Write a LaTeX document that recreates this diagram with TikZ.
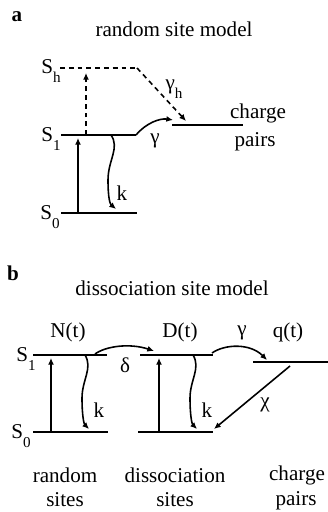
\documentclass[tikz,border=0pt]{standalone}
\usepackage{fontspec}
\setmainfont{Liberation Serif}
\usepackage{tikz}
\usetikzlibrary{arrows.meta}
\newcommand{\sublbl}[2]{#1\lower0.42em\hbox{\fontsize{4.3}{5}\selectfont #2}}

\begin{document}
\begin{tikzpicture}[scale=0.1, >={Latex[length=1.9pt,width=1.7pt]}]
\tikzstyle{every node}+=[inner sep=0pt, font=\fontsize{6}{7}\selectfont]
\tikzstyle{level}=[black, line width=0.62pt]
\tikzstyle{trans}=[black, line width=0.45pt, ->]
\tikzstyle{dashline}=[dash pattern=on 1.4pt off 1.1pt]
\useasboundingbox (0,0) rectangle (32.8,-51.2);
% panel a: random site model
\node (lbla) at (1.7,-1.7) {\bfseries a};
\node (titlea) at (17.4,-2.9) {random site model};
\coordinate (ahl) at (6.0,-6.8);
\coordinate (ahr) at (13.7,-6.8);
\coordinate (a1l) at (6.1,-13.5);
\coordinate (a1r) at (13.6,-13.5);
\coordinate (a0l) at (6.1,-21.3);
\coordinate (a0r) at (13.7,-21.3);
\coordinate (acl) at (17.2,-12.5);
\coordinate (acr) at (24.3,-12.5);
\coordinate (ahend) at (18.6,-12.1);
\draw [level, dashline] (ahl) -- (ahr);
\draw [level] (a1l) -- (a1r);
\draw [level] (a0l) -- (a0r);
\draw [level] (acl) -- (acr);
\node (ash) at (5.1,-7.1) {\sublbl{S}{h}};
\node (as1) at (5.1,-13.9) {\sublbl{S}{1}};
\node (as0) at (5.0,-21.7) {\sublbl{S}{0}};
\draw [trans, dashline] (ahr) -- (ahend);
\draw [trans, dashline] (8.6,-13.5) -- (8.6,-7.3);
\draw [trans] (7.8,-21.3) -- (7.8,-13.8);
\draw [trans] (11.1,-13.5) .. controls (12.0,-14.8) and (10.8,-16.0) .. (10.8,-18.0) .. controls (10.8,-19.8) and (11.0,-20.4) .. (11.6,-20.9);
\draw [trans] (a1r) .. controls (14.6,-12.3) and (16.0,-11.8) .. (17.3,-12.0);
\node (agh) at (17.4,-8.9) {\sublbl{γ}{h}};
\node (ag) at (15.5,-14.1) {γ};
\node (ak) at (12.2,-19.3) {k};
\node (acharge) at (25.8,-11.3) {charge};
\node (apairs) at (25.5,-14.2) {pairs};
% panel b: dissociation site model
\node (lblb) at (1.3,-27.3) {\bfseries b};
\node (titleb) at (17.2,-28.8) {dissociation site model};
\coordinate (r1l) at (3.3,-35.5);
\coordinate (r1r) at (10.7,-35.5);
\coordinate (r0l) at (3.3,-43.2);
\coordinate (r0r) at (10.8,-43.2);
\coordinate (d1l) at (14.0,-35.5);
\coordinate (d1r) at (21.3,-35.5);
\coordinate (d0l) at (13.8,-43.2);
\coordinate (d0r) at (21.3,-43.2);
\coordinate (ql) at (25.3,-36.2);
\coordinate (qr) at (32.8,-36.2);
\draw [level] (r1l) -- (r1r);
\draw [level] (r0l) -- (r0r);
\draw [level] (d1l) -- (d1r);
\draw [level] (d0l) -- (d0r);
\draw [level] (ql) -- (qr);
\node (bs1) at (2.6,-35.9) {\sublbl{S}{1}};
\node (bs0) at (2.1,-43.6) {\sublbl{S}{0}};
\node (bn) at (6.8,-33.2) {N(t)};
\node (bd) at (18.0,-33.2) {D(t)};
\node (bq) at (28.8,-33.2) {q(t)};
\draw [trans] (5.1,-43.2) -- (5.1,-35.8);
\draw [trans] (15.9,-43.2) -- (15.9,-35.8);
\draw [trans] (8.5,-35.5) .. controls (9.3,-36.8) and (8.2,-38.0) .. (8.2,-39.8) .. controls (8.2,-41.6) and (8.4,-42.4) .. (8.9,-42.9);
\draw [trans] (19.3,-35.5) .. controls (20.1,-36.8) and (19.0,-38.0) .. (19.0,-39.8) .. controls (19.0,-41.6) and (19.2,-42.4) .. (19.7,-42.9);
\draw [trans] (9.5,-35.4) .. controls (10.6,-34.6) and (13.0,-34.3) .. (15.4,-35.1);
\draw [trans] (21.2,-35.3) .. controls (22.5,-34.4) and (25.0,-34.3) .. (26.7,-36.0);
\draw [trans] (29.0,-36.6) -- (21.4,-42.9);
\node (bdelta) at (12.5,-36.5) {δ};
\node (bgamma) at (24.2,-33.3) {γ};
\node (bchi) at (26.5,-40.5) {χ};
\node (bk1) at (9.9,-41.0) {k};
\node (bk2) at (20.7,-41.0) {k};
\node (lrandom) at (6.5,-47.5) {random};
\node (lsites1) at (6.5,-50.0) {sites};
\node (ldiss) at (17.5,-47.5) {dissociation};
\node (lsites2) at (17.5,-50.0) {sites};
\node (lcharge) at (29.7,-47.5) {charge};
\node (lpairs) at (29.6,-50.1) {pairs};
\end{tikzpicture}
\end{document}
